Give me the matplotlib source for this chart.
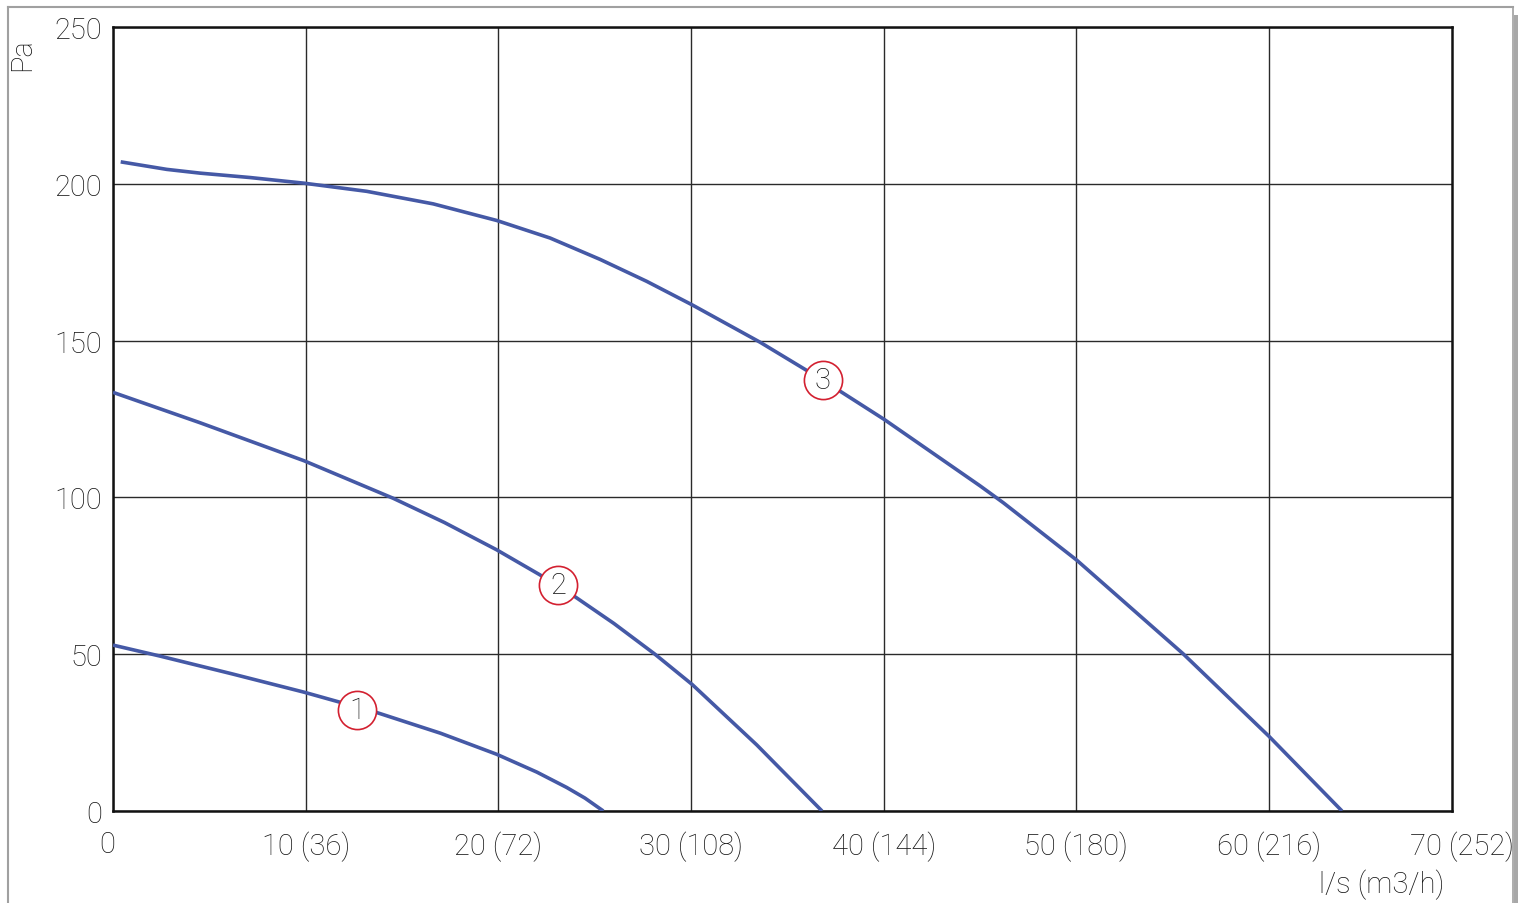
import matplotlib
matplotlib.use("Agg")
import matplotlib.pyplot as plt
from matplotlib.patches import Rectangle
from matplotlib.lines import Line2D
from matplotlib.transforms import ScaledTranslation

plt.rcParams['font.family'] = ['Roboto', 'DejaVu Sans']

# Data
x_ticks = [0, 10, 20, 30, 40, 50, 60]
x_tick_labels = ["0", "10 (36)", "20 (72)", "30 (108)", "40 (144)", "50 (180)", "60 (216)"]
x_last_tick = 70
x_last_label = "70 (252)"
y_ticks = [0, 50, 100, 150, 200, 250]

curve1_x = [0.0, 2.44, 6.2, 9.91, 13.69, 17.0, 19.91, 22.0, 23.55, 24.5, 25.45]
curve1_y = [52.9, 49.4, 43.7, 37.9, 31.4, 24.8, 18.1, 12.4, 7.5, 4.1, 0.0]

curve2_x = [0.0, 4.52, 9.91, 14.55, 17.2, 19.91, 22.16, 23.89, 26.0, 28.13, 30.07, 33.41, 36.8]
curve2_y = [133.5, 123.8, 111.7, 99.7, 92.0, 83.3, 75.3, 68.7, 59.8, 50.0, 40.3, 21.1, 0.0]

curve3_x = [0.4, 2.79, 4.52, 7.11, 9.91, 13.17, 16.62, 19.92, 22.69, 25.28, 27.7, 30.09, 33.58,
            36.84, 40.02, 45.0, 46.21, 50.02, 55.55, 60.02, 63.79]
curve3_y = [207.0, 204.6, 203.4, 202.0, 200.2, 197.6, 193.6, 188.3, 182.7, 175.9, 168.9, 161.3, 149.5,
            137.4, 124.9, 103.7, 98.3, 80.0, 50.1, 23.7, 0.0]

label_names = ["1", "2", "3"]
label_x = [12.68, 23.11, 36.84]
label_y = [32.2, 72.0, 137.4]

line_color = "#4559a6"
circle_color = "#d32030"
text_color = "#161616"
FW = 'light'

fig = plt.figure(figsize=(15.24, 9.04), dpi=100)
ax = fig.add_axes([113/1524, 92/904, (1452-113)/1524, (812-28)/904])

for xs, ys in [(curve1_x, curve1_y), (curve2_x, curve2_y), (curve3_x, curve3_y)]:
    ax.plot(xs, ys, color=line_color, lw=2.6, solid_joinstyle='round', solid_capstyle='butt', zorder=3)

for n, lx, ly in zip(label_names, label_x, label_y):
    ax.plot([lx], [ly], marker='o', markersize=27.5, markerfacecolor='white',
            markeredgecolor=circle_color, markeredgewidth=1.2, zorder=4)
    ax.text(lx, ly, n, ha='center', va='center', fontsize=21, color=text_color,
            fontweight=FW, zorder=5)

ax.set_xlim(0, 69.5)
ax.set_ylim(0, 250)
ax.set_xticks(x_ticks)
ax.set_xticklabels(x_tick_labels)
ax.set_yticks(y_ticks)
ax.grid(True, color="#2a2a2a", lw=1.0)
ax.set_axisbelow(True)
ax.tick_params(length=0, labelsize=21, labelcolor=text_color)
ax.tick_params(axis='x', pad=14)
ax.tick_params(axis='y', pad=8)
for lab in ax.get_xticklabels() + ax.get_yticklabels():
    lab.set_fontweight(FW)
# the "0" x label sits slightly left of the origin in the reference
lab0 = ax.get_xticklabels()[0]
lab0.set_transform(lab0.get_transform() + ScaledTranslation(-6/100, 0, fig.dpi_scale_trans))
for s in ax.spines.values():
    s.set_linewidth(1.8)
    s.set_color("#111111")

# last x tick label sits beyond the right frame edge
ax.annotate(x_last_label, xy=(x_last_tick, 0), xycoords=('data', 'axes fraction'),
            xytext=(0, -14), textcoords='offset points',
            ha='center', va='top', fontsize=21, color=text_color, fontweight=FW,
            annotation_clip=False)

fig.text(22/1524, 1 - 55/904, "Pa", rotation=90, ha='center', va='center',
         fontsize=21, color=text_color, fontweight=FW)
fig.text(1382/1524, 1 - 885/904, "l/s (m3/h)", ha='center', va='center',
         fontsize=21, color=text_color, fontweight=FW)

# outer frame
W, H = 1524, 904
fig.add_artist(Line2D([8/W, 1513/W], [1 - 8/H, 1 - 8/H], color="#a0a0a0", lw=1.5))
fig.add_artist(Line2D([8/W, 8/W], [0, 1 - 8/H], color="#a0a0a0", lw=1.5))
fig.add_artist(Line2D([1513/W, 1513/W], [0, 1 - 8/H], color="#a0a0a0", lw=1.2))
fig.add_artist(Rectangle((1514/W, 0), 4/W, 1 - 16/H, transform=fig.transFigure,
                         color="#a8a8a8", lw=0))

fig.savefig("out.png", dpi=100)
